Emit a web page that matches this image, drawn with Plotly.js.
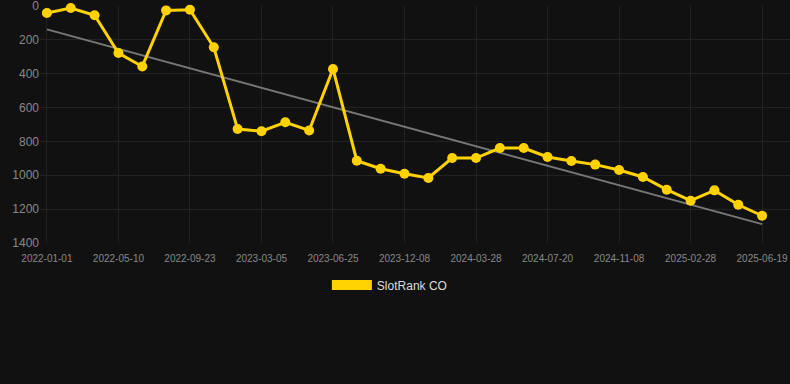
<!DOCTYPE html>
<html>
<head>
<meta charset="utf-8">
<script src="https://cdn.plot.ly/plotly-3.0.1.min.js"></script>
<style>
html,body{margin:0;padding:0;background:#111111;}
#chart{width:790px;height:384px;}
</style>
</head>
<body>
<div id="chart"></div>
<script>
// Category dates (labelled ones read from the axis; others estimated)
const dates = [
  "2022-01-01","2022-02-13","2022-03-28","2022-05-10","2022-06-24","2022-08-08",
  "2022-09-23","2022-11-16","2023-01-09","2023-03-05","2023-04-11","2023-05-18",
  "2023-06-25","2023-08-19","2023-10-13","2023-12-08","2024-01-14","2024-02-20",
  "2024-03-28","2024-05-05","2024-06-12","2024-07-20","2024-08-26","2024-10-02",
  "2024-11-08","2024-12-15","2025-01-21","2025-02-28","2025-04-07","2025-05-13",
  "2025-06-19"
];
// Rank values
const rankCO = [
  41, 12, 55, 278, 357, 26, 22, 244, 727, 740, 687, 735,
  372, 914, 961, 991, 1016, 898, 898, 839, 839, 892, 916, 937,
  969, 1010, 1085, 1150, 1089, 1174, 1239
];
const tickLabels = ["2022-01-01","2022-05-10","2022-09-23","2023-03-05","2023-06-25",
  "2023-12-08","2024-03-28","2024-07-20","2024-11-08","2025-02-28","2025-06-19"];
const yTicks = [0,200,400,600,800,1000,1200,1400];
const seriesName = "SlotRank CO";

// least-squares trend over the category index
const n = rankCO.length;
let sx=0, sy=0, sxy=0, sxx=0;
rankCO.forEach((v,i)=>{sx+=i; sy+=v; sxy+=i*v; sxx+=i*i;});
const slope = (n*sxy - sx*sy)/(n*sxx - sx*sx);
const icpt = (sy - slope*sx)/n;
const trendX = [dates[0], dates[n-1]];
const trendY = [icpt, icpt + slope*(n-1)];

const gold = "#ffd200";
const traces = [
  {x: trendX, y: trendY, mode: "lines", line: {color: "#777777", width: 2},
   showlegend: false, hoverinfo: "skip"},
  {x: dates, y: rankCO, mode: "lines+markers", name: seriesName,
   line: {color: gold, width: 3}, marker: {color: gold, size: 10},
   cliponaxis: false, showlegend: false},
  {x: [null], y: [null], mode: "lines", name: seriesName,
   line: {color: gold, width: 12}, showlegend: true}
];

const layout = {
  width: 790, height: 384,
  paper_bgcolor: "#111111", plot_bgcolor: "#111111",
  margin: {l: 40, r: 0, t: 6, b: 141},
  font: {family: "Liberation Sans, Arial, sans-serif", color: "#888888"},
  xaxis: {
    type: "category", categoryorder: "array", categoryarray: dates,
    range: [-0.29, 31.17],
    tickmode: "array", tickvals: tickLabels, ticktext: tickLabels,
    tickfont: {size: 10, color: "#888888"}, ticklabelstandoff: 8,
    showgrid: true, gridcolor: "#222222", gridwidth: 1,
    zeroline: false, showline: false, ticks: "", automargin: false
  },
  yaxis: {
    range: [1400, 0], tickmode: "array", tickvals: yTicks,
    tickfont: {size: 12, color: "#888888"}, ticklabeloverflow: "allow",
    showgrid: true, gridcolor: "#222222", gridwidth: 1,
    zeroline: false, showline: false, ticks: "", automargin: false
  },
  showlegend: true,
  legend: {
    orientation: "h", xref: "container", yref: "container",
    x: 0.4935, xanchor: "center", y: 0.258, yanchor: "middle",
    itemwidth: 40, font: {size: 12, color: "#dddddd"},
    bgcolor: "rgba(0,0,0,0)"
  },
  hovermode: false
};

Plotly.newPlot("chart", traces, layout, {displayModeBar: false, staticPlot: true});
</script>
</body>
</html>
